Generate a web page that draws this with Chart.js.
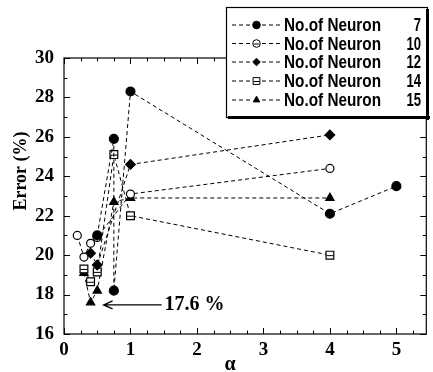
<!DOCTYPE html>
<html>
<head>
<meta charset="utf-8">
<script src="https://cdn.jsdelivr.net/npm/chart.js@4.4.1/dist/chart.umd.min.js"></script>
<style>
  body { margin: 0; background: #fff; }
  canvas { display: block; }
</style>
</head>
<body>
<canvas id="errChart" width="433" height="372"></canvas>
<script>
// values
const seriesNames = ['No.of Neuron', 'No.of Neuron', 'No.of Neuron', 'No.of Neuron', 'No.of Neuron'];
const neuronCounts = ['7', '10', '12', '14', '15'];

const n7Alpha = [0.5, 0.75, 0.75, 1, 4, 5];
const n7Err = [21.0, 25.9, 18.2, 28.3, 22.1, 23.5];

const n10Alpha = [0.2, 0.3, 0.4, 0.5, 1, 4];
const n10Err = [21.0, 19.9, 20.6, 20.9, 23.1, 24.4];

const n12Alpha = [0.4, 0.5, 1, 4];
const n12Err = [20.1, 19.5, 24.6, 26.1];

const n14Alpha = [0.3, 0.4, 0.5, 0.75, 1, 4];
const n14Err = [19.3, 18.65, 19.15, 25.1, 22.0, 20.0];

const n15Alpha = [0.3, 0.4, 0.5, 0.75, 1, 4];
const n15Err = [19.1, 17.6, 18.2, 22.7, 22.9, 22.9];

const xTickValues = [0, 1, 2, 3, 4, 5];
const yTickValues = [16, 18, 20, 22, 24, 26, 28, 30];
const minLabel = '17.6 %';

const serif = "'Liberation Serif', 'DejaVu Serif', serif";
const pts = (xs, ys) => xs.map((x, i) => ({ x: x, y: ys[i] }));

const makeSet = (idx, xs, ys, style, fill, radius) => ({
    label: seriesNames[idx] + ' ' + neuronCounts[idx],
    data: pts(xs, ys),
    borderColor: '#000',
    borderWidth: 1,
    borderDash: [4, 3],
    pointStyle: style,
    pointRadius: radius,
    pointBackgroundColor: fill,
    pointBorderColor: '#000',
    pointBorderWidth: 1.2,
    fill: false,
    tension: 0
});

const datasets = [
    makeSet(0, n7Alpha, n7Err, 'circle', '#000', 4.5),
    makeSet(1, n10Alpha, n10Err, 'circle', '#fff', 4),
    makeSet(2, n12Alpha, n12Err, 'rectRot', '#000', 4.8),
    makeSet(3, n14Alpha, n14Err, 'rect', '#fff', 5.5),
    makeSet(4, n15Alpha, n15Err, 'triangle', '#000', 4.8)
];

// frame, inward ticks, titles, annotation and legend box
const decorPlugin = {
    id: 'decor',
    afterDatasetsDraw(chart) {
        const ctx = chart.ctx;
        const a = chart.chartArea;
        const xs = chart.scales.x, ys = chart.scales.y;
        ctx.save();
        ctx.strokeStyle = '#000';
        ctx.lineWidth = 1.2;
        ctx.strokeRect(a.left, a.top, a.right - a.left, a.bottom - a.top);

        ctx.lineWidth = 1;
        ctx.beginPath();
        for (let v = 0; v <= xs.max + 1e-9; v += 0.25) {
            const px = Math.round(xs.getPixelForValue(v)) + 0.5;
            const len = Math.abs(v - Math.round(v)) < 1e-6 ? 6 : 3.5;
            ctx.moveTo(px, a.bottom); ctx.lineTo(px, a.bottom - len);
            ctx.moveTo(px, a.top); ctx.lineTo(px, a.top + len);
        }
        for (let v = ys.min; v <= ys.max; v += 1) {
            const py = Math.round(ys.getPixelForValue(v)) + 0.5;
            const len = v % 2 === 0 ? 6 : 3.5;
            ctx.moveTo(a.left, py); ctx.lineTo(a.left + len, py);
            ctx.moveTo(a.right, py); ctx.lineTo(a.right - len, py);
        }
        ctx.stroke();

        // line inside the square markers
        const sq = chart.getDatasetMeta(3).data;
        ctx.beginPath();
        sq.forEach(p => { ctx.moveTo(p.x - 3.5, p.y + 0.5); ctx.lineTo(p.x + 3.5, p.y + 0.5); });
        ctx.stroke();

        // annotation for the lowest error
        const lowPt = chart.getDatasetMeta(4).data[1];
        const ay = lowPt.y + 2.5;
        const tipX = lowPt.x + 13;
        const endX = lowPt.x + 71;
        ctx.beginPath();
        ctx.moveTo(tipX, ay); ctx.lineTo(endX, ay);
        ctx.moveTo(tipX + 9, ay - 4); ctx.lineTo(tipX, ay); ctx.lineTo(tipX + 9, ay + 4);
        ctx.lineWidth = 1.3;
        ctx.stroke();
        ctx.fillStyle = '#000';
        ctx.font = 'bold 20px ' + serif;
        ctx.textAlign = 'left';
        ctx.textBaseline = 'middle';
        ctx.fillText(minLabel, endX + 3, ay);

        // axis titles
        ctx.font = 'bold 18px ' + serif;
        ctx.textAlign = 'center';
        ctx.save();
        ctx.translate(21, 171);
        ctx.rotate(-Math.PI / 2);
        ctx.fillText('Error (%)', 0, 0);
        ctx.restore();
        ctx.font = 'bold 20px ' + serif;
        ctx.fillText('α', (a.left + a.right) / 2 - 15, 365);

        // legend box
        const bx = 226, by = 7, bw = 201, bh = 110;
        ctx.fillStyle = '#fff';
        ctx.fillRect(bx, by, bw, bh);
        ctx.strokeStyle = '#000';
        ctx.lineWidth = 1.2;
        ctx.strokeRect(bx + 0.5, by + 0.5, bw, bh);
        ctx.fillStyle = '#000';
        ctx.fillRect(bx + bw - 1, by + 2, 3, bh + 1);
        ctx.fillRect(bx + 2, by + bh - 1, bw + 1, 3);

        const rowY = [25, 43.5, 62, 81, 100];
        datasets.forEach((ds, i) => {
            const y = rowY[i];
            ctx.save();
            ctx.setLineDash([4, 3]);
            ctx.lineWidth = 1;
            ctx.beginPath();
            ctx.moveTo(232, y); ctx.lineTo(251, y);
            ctx.moveTo(262, y); ctx.lineTo(281, y);
            ctx.stroke();
            ctx.restore();
            ctx.fillStyle = ds.pointBackgroundColor;
            ctx.strokeStyle = '#000';
            ctx.lineWidth = 1;
            Chart.helpers.drawPoint(ctx, {
                pointStyle: ds.pointStyle, radius: ds.pointStyle === 'rect' ? 4.8 : 3.8, rotation: 0, borderWidth: 1
            }, 256.5, y);
            if (i === 1 || i === 3) {
                ctx.beginPath();
                ctx.moveTo(253.5, y + 0.5); ctx.lineTo(259.5, y + 0.5);
                ctx.stroke();
            }
            ctx.fillStyle = '#000';
            ctx.font = 'bold 16px "Liberation Sans", Arial, sans-serif';
            ctx.textBaseline = 'middle';
            ctx.textAlign = 'left';
            const name = seriesNames[i];
            const w = ctx.measureText(name).width;
            ctx.save();
            ctx.translate(284, y + 1);
            ctx.scale(97 / w, 1.15);
            ctx.fillText(name, 0, 0);
            ctx.restore();
            ctx.textAlign = 'right';
            const num = neuronCounts[i];
            ctx.save();
            ctx.translate(421, y + 1);
            ctx.scale(0.82, 1.15);
            ctx.fillText(num, 0, 0);
            ctx.restore();
        });
        ctx.restore();
    }
};

new Chart(document.getElementById('errChart').getContext('2d'), {
    type: 'line',
    data: { datasets: datasets },
    options: {
        responsive: false,
        animation: false,
        layout: { padding: { top: 58, right: 3, left: 0, bottom: 0 } },
        plugins: { legend: { display: false }, tooltip: { enabled: false } },
        scales: {
            x: {
                type: 'linear',
                min: 0,
                max: 5.45,
                grid: { display: false, drawTicks: false },
                border: { display: false },
                afterBuildTicks: (scale) => { scale.ticks = xTickValues.map(v => ({ value: v })); },
                afterFit: (scale) => { scale.height = 38; },
                ticks: {
                    color: '#000',
                    padding: 5,
                    maxRotation: 0,
                    font: { family: serif, size: 19, weight: 'bold' }
                }
            },
            y: {
                type: 'linear',
                min: 16,
                max: 30,
                grid: { display: false, drawTicks: false },
                border: { display: false },
                afterBuildTicks: (scale) => { scale.ticks = yTickValues.map(v => ({ value: v })); },
                afterFit: (scale) => { scale.width = 64; },
                ticks: {
                    color: '#000',
                    padding: 10,
                    font: { family: serif, size: 19, weight: 'bold' }
                }
            }
        }
    },
    plugins: [decorPlugin]
});
</script>
</body>
</html>
